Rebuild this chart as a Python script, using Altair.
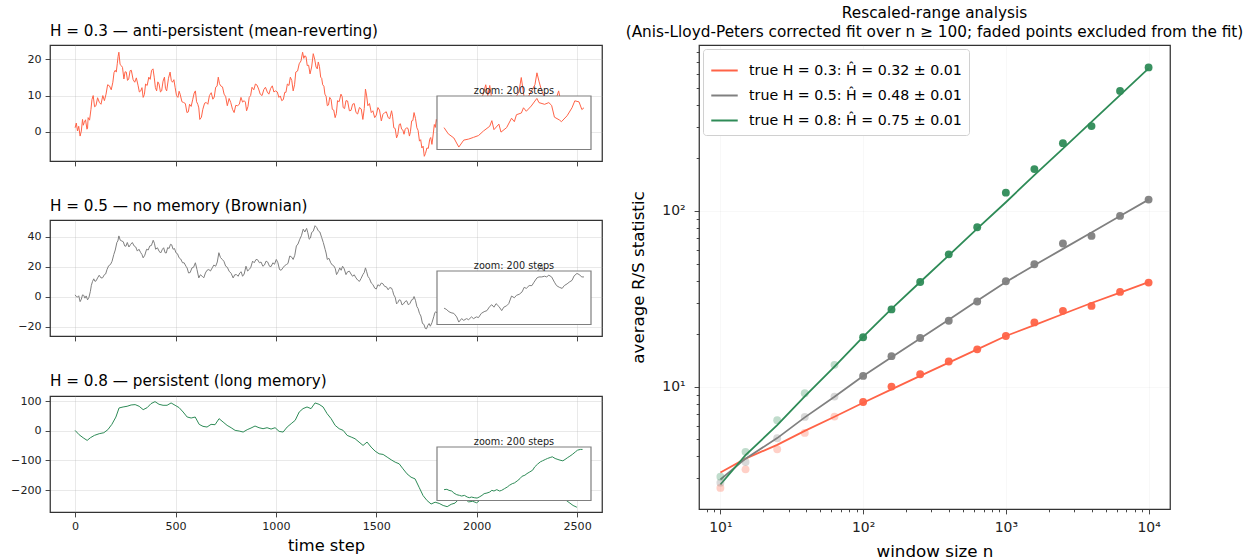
import altair as alt
import pandas as pd

FONT = "DejaVu Sans"
RED, GRAY, GREEN = "#ff6347", "#808080", "#2e8b57"

# ---------------- left panels: time series ----------------
t1 = [0,12,25,37,45,59,65,79,90,104,121,138,154,171,188,200,210,218,230,243,255,267,280,297,314,327,339,351,367,381,
      394,406,418,431,445,456,473,485,498,512,523,540,557,570,586,599,611,621,636,653,669,686,700,713,725,742,758,775,792,809,
      826,842,854,867,881,898,914,931,948,965,982,998,1015,1029,1044,1057,1072,1086,1099,1116,1133,1144,1156,1170,1186,1200,1211,1223,1233,1244,
      1256,1268,1281,1295,1307,1324,1335,1349,1366,1382,1399,1416,1433,1446,1458,1475,1492,1508,1525,1542,1559,1576,1587,1601,1614,1626,1638,1651,1665,1676,
      1688,1702,1715,1727,1739,1752,1766,1777,1789,1799,1820,1840,1860,1880,1900,1920,1940,1960,1980,2000,2020,2035,2045,2055,2065,2075,2090,2110,2130,2150,
      2170,2190,2210,2222,2235,2250,2270,2290,2300,2310,2320,2340,2360,2380,2395,2408,2420,2440,2460,2480,2499]
v1 = [1.1,0.2,-1.2,3.4,2.5,0.7,3.9,6.2,10.0,7.2,8.1,10.0,10.4,12.7,13.7,17.0,18.8,22.0,18.3,14.6,16.5,14.6,17.0,13.7,12.7,11.3,9.5,13.2,15.1,17.0,
      15.1,11.3,13.2,11.3,15.1,11.3,16.5,13.7,12.3,9.5,10.4,8.1,5.3,7.6,9.0,11.3,7.6,3.4,6.2,8.1,10.0,9.0,12.3,15.1,12.7,10.4,7.2,8.1,5.3,7.2,
      9.5,8.6,5.8,9.5,12.3,13.2,11.8,10.0,12.3,10.4,12.7,11.3,9.5,8.6,10.9,13.2,15.1,11.3,16.5,18.8,22.0,21.0,18.3,16.0,21.6,17.9,19.3,15.1,13.0,10.4,
      7.2,9.5,6.2,3.9,8.6,10.4,6.7,8.6,5.8,7.6,5.3,6.7,3.4,11.8,7.2,5.3,3.9,6.7,3.0,5.3,3.9,5.8,1.1,-1.7,2.0,0.7,-0.7,1.1,-1.2,3.0,
      5.3,1.1,-2.6,-4.5,-6.8,-4.5,-2.1,-3.5,2.0,3.4,0.0,-2.0,1.0,3.0,5.0,4.0,6.0,8.0,7.0,9.0,8.0,11.0,13.0,10.0,12.8,9.0,8.0,7.0,9.0,8.0,
      10.0,9.0,11.0,15.0,10.0,9.0,11.0,13.0,16.3,14.0,12.0,9.0,8.0,7.0,9.0,11.3,8.0,6.0,7.0,5.0,6.0]
# finer wiggles of the H = 0.3 path, read between the points above
t1b = [6,18,31,41,52,62,72,84,97,112,129,146,162,180,194,205,214,224,236,249,261,274,289,305,320,333,345,359,374,388,
       400,412,425,438,450,465,479,492,505,518,532,549,564,578,593,605,616,629,645,661,678,693,707,719,734,750,767,784,800,818,
       834,848,861,874,890,906,922,940,957,974,990,1007,1022,1037,1050,1065,1079,1093,1108,1125,1139,1150,1163,1178,1193,1206,1217,1228,1239,1250,
       1262,1275,1288,1301,1315,1330,1342,1357,1374,1390,1407,1425,1440,1452,1466,1483,1500,1516,1533,1550,1567,1581,1594,1607,1620,1632,1644,1658,1670,1682,
       1695,1708,1721,1733,1745,1759,1771,1783,1794]
v1b = [2.4,1.5,0.2,1.8,3.3,1.0,3.2,8.9,6.9,9.4,7.6,8.6,13.0,11.6,16.4,16.5,20.8,18.6,17.8,16.6,14.2,16.9,14.4,14.9,11.0,12.2,10.3,12.8,14.5,17.4,
       12.2,13.8,11.0,14.0,12.0,14.8,14.2,14.4,10.0,11.2,8.3,7.8,5.5,7.0,10.7,8.3,6.6,4.0,7.9,7.6,10.8,9.6,12.6,13.3,12.4,9.7,9.2,6.2,7.3,7.6,
       8.2,8.2,7.0,10.0,11.6,12.9,10.4,11.7,11.0,12.0,11.0,11.0,9.9,8.9,10.9,12.8,14.2,13.0,16.8,19.6,20.3,20.8,18.4,17.9,20.1,17.4,18.0,14.8,12.6,9.8,
       7.4,8.9,6.0,5.0,8.3,9.7,6.4,8.5,5.9,7.8,4.9,6.3,6.4,9.9,7.8,5.8,4.6,6.0,4.8,5.5,3.6,4.3,0.9,-0.8,2.2,0.5,0.7,0.9,0.0,3.1,
       3.7,0.4,-2.2,-4.0,-6.0,-4.6,-1.6,-0.9,1.2]

t2 = [0,12,25,37,49,62,76,87,99,112,129,146,159,176,193,208,218,233,247,260,277,294,310,327,339,356,372,389,401,418,
      435,448,461,475,488,502,518,535,552,565,582,599,616,633,649,666,683,700,716,733,750,767,787,804,820,834,851,867,884,901,
      918,935,951,968,985,1002,1018,1035,1052,1069,1086,1102,1119,1136,1153,1166,1178,1195,1211,1228,1245,1256,1273,1290,1302,1318,1332,1349,1366,1382,
      1399,1416,1433,1446,1458,1475,1492,1508,1525,1542,1559,1576,1587,1601,1614,1628,1643,1660,1676,1688,1702,1715,1730,1744,1757,1769,1786,1796,1810,1830,
      1850,1870,1890,1910,1930,1950,1970,1990,2010,2030,2050,2070,2090,2110,2130,2150,2170,2190,2210,2230,2250,2270,2290,2310,2322,2335,2350,2370,2390,2410,
      2430,2450,2470,2490,2499]
v2 = [1.1,-0.4,-3.4,1.1,-1.1,-2.2,3.4,10.1,10.1,12.4,12.4,14.6,18.0,21.3,28.1,36.0,40.4,37.0,33.7,36.0,34.8,33.7,30.3,29.2,25.8,31.5,33.7,37.5,31.5,30.3,
      31.5,29.2,32.6,34.8,31.5,29.2,25.8,22.5,20.2,15.7,19.1,22.5,12.4,13.5,15.7,18.0,19.1,20.2,29.2,24.7,20.2,16.9,12.4,14.6,15.7,13.5,20.2,18.0,23.6,24.7,
      22.5,20.2,23.6,20.2,22.5,24.7,18.0,19.1,21.3,27.0,24.7,33.7,38.2,44.9,45.4,38.2,42.7,47.2,43.8,39.3,31.5,24.7,22.5,20.2,14.6,19.1,20.2,14.6,16.9,13.5,
      12.4,10.1,14.6,19.1,13.5,9.0,5.6,7.9,9.0,6.7,4.5,5.6,1.1,-4.9,-2.2,-5.6,-3.4,-5.6,-2.2,0.0,-6.7,-11.2,-18.0,-21.3,-19.1,-19.8,-13.5,-10.1,-12.0,-15.0,
      -10.0,-8.0,-12.0,-6.0,-3.0,-5.0,0.0,-2.0,3.0,5.0,2.0,6.0,8.0,4.0,7.0,10.0,8.0,11.0,13.0,10.0,12.0,14.0,15.0,18.0,21.0,16.0,12.0,10.0,8.0,11.0,
      9.0,12.0,14.0,11.0,12.0]
# finer wiggles of the H = 0.5 path, read between the points above
t2b = [6,18,31,43,55,69,81,93,105,120,137,152,167,184,200,213,225,240,253,268,285,302,318,333,347,364,380,395,410,426,
       441,454,468,481,495,510,526,543,558,573,590,607,624,641,657,674,691,708,724,741,758,777,795,812,827,842,859,875,892,909,
       926,943,959,976,993,1010,1026,1043,1060,1077,1094,1110,1127,1144,1159,1172,1186,1203,1219,1236,1250,1264,1281,1296,1310,1325,1340,1357,1374,1390,
       1407,1424,1440,1452,1466,1483,1500,1516,1533,1550,1567,1581,1594,1607,1621,1635,1651,1668,1682,1695,1708,1722,1737,1750,1763,1777,1791]
v2b = [0.0,0.5,-1.8,0.8,0.4,-0.5,7.5,11.8,10.5,14.2,12.5,15.0,20.5,23.5,31.0,37.0,37.5,36.5,33.5,33.0,36.0,33.0,31.5,28.0,27.5,31.0,34.0,35.5,32.5,29.0,
       32.5,29.0,32.0,34.5,32.0,28.5,25.0,22.5,19.0,16.0,19.5,18.0,14.5,12.5,17.5,17.0,21.0,23.0,26.0,23.5,19.5,15.5,14.5,13.5,16.5,15.0,17.0,19.5,22.5,24.5,
       23.0,21.0,23.0,20.0,21.5,22.5,17.5,20.5,22.0,26.5,27.5,35.0,40.5,43.0,42.5,39.0,43.5,46.0,43.0,36.0,29.0,25.5,21.0,18.5,16.5,17.5,18.5,16.5,15.0,14.5,
       11.0,12.0,16.0,16.5,12.0,8.0,5.0,7.0,8.5,6.5,6.0,4.0,-0.5,-4.0,-2.5,-5.0,-2.8,-4.5,-2.0,-2.5,-8.0,-13.0,-18.5,-21.5,-18.0,-17.5,-11.0]

t3 = [0,20,40,60,76,96,120,143,163,183,203,219,239,259,279,299,319,339,359,378,398,418,438,458,478,498,518,538,558,578,
      598,618,637,657,677,697,717,737,757,777,797,817,837,857,876,896,916,936,956,976,996,1016,1036,1056,1076,1096,1116,1135,1155,1175,
      1195,1215,1235,1255,1275,1295,1315,1335,1355,1375,1394,1414,1434,1454,1474,1494,1514,1534,1554,1574,1594,1614,1633,1653,1673,1693,1713,1733,1753,1773,
      1793,1813,1833,1853,1873,1892,1920,1940,1960,1980,2000,2020,2040,2060,2080,2100,2120,2140,2160,2180,2200,2220,2240,2260,2280,2300,2320,2340,2360,2380,
      2400,2420,2440,2460,2480,2499]
v3 = [1,-13.5,-23.7,-32.7,-23.7,-15.8,-10.1,-6.8,3.4,21.4,46,76.7,80,82.3,86.8,88,82.3,71,77.8,91.3,98,89,85.7,85.7,93.6,85.7,77.8,63,46.2,42.8,
      46.2,21.4,14.7,12.4,21.4,20.3,40.6,29.3,18,10.1,1.1,-1.1,-4.5,3.4,9,15.8,10.1,6.8,10.1,5.6,10.1,-2.3,-4.5,12.4,23.7,35,63,74.4,80,74.4,
      93.6,89,80,57.5,40.6,18,6.8,1.1,-15.8,-21.4,-27,-38.3,-49.6,-38.3,-55.2,-68.8,-77.8,-80,-89,-98,-106,-111.6,-128.5,-145.4,-156.7,-162.3,-190.5,-218.7,-235.6,-247,
      -241,-245,-252,-256,-248,-244,-225,-230,-240,-238,-243,-232,-230,-215,-210,-200,-190,-195,-185,-180,-190,-200,-205,-210,-215,-205,-210,-220,-215,-220,
      -225,-228,-232,-242,-252,-258]

# ---------------- insets: 200-step zoom (own scale) ----------------
ins1_s = [0,6,14,21,28,35,42,49,56,65,68,71,78,81,89,96,100,103,110,113,117,124,132,135,143,149,153,157,164,167,175,182,186,192,196,199]
ins1_v = [4.06,2.94,2.19,0.56,1.81,2.0,2.31,2.63,3.44,4.31,5.31,3.69,4.69,3.25,4.06,5.75,5.13,6.38,6.69,7.63,7.0,7.94,9.31,8.56,8.25,8.56,8.06,5.94,5.44,5.13,6.19,7.63,8.88,8.69,7.31,7.63]

ins2_s = [0,3,7,10,14,18,21,25,28,32,35,39,42,46,49,53,57,61,65,68,71,74,78,82,85,89,92,96,100,103,107,111,114,117,121,125,128,132,135,139,143,146,149,153,157,160,164,168,171,175,178,182,185,189,192,196,199]
ins2_v = [3.13,2.94,2.5,2.31,2.19,1.56,0.63,1.25,0.94,1.25,1.06,1.56,1.25,1.56,1.44,2.19,2.5,2.69,3.44,3.75,3.31,3.94,3.44,2.69,3.31,3.56,3.94,5.31,5.0,5.44,5.63,6.06,6.88,6.69,7.19,7.19,7.81,8.56,8.75,8.75,8.88,8.75,9.06,8.75,7.81,7.19,6.88,6.69,7.19,7.5,7.81,8.13,8.94,9.38,9.19,8.75,8.75]

ins3_s = [0,4,7,11,14,18,22,25,29,33,36,39,43,47,50,54,57,61,65,68,71,75,79,82,86,90,93,97,100,104,108,111,115,118,122,126,129,133,137,140,144,147,151,154,158,162,165,169,172,176,179,183,187,190,194,197]
ins3_v = [2.03,2.09,1.9,1.77,1.39,1.08,0.95,0.82,0.95,0.63,0.51,0.63,0.51,0.44,0.63,0.95,1.27,1.39,1.58,1.9,1.77,2.03,1.77,1.9,2.22,2.53,2.85,3.16,3.29,3.67,4.11,4.56,4.75,5.06,5.38,5.7,6.33,6.84,7.28,7.47,7.72,7.91,8.1,8.23,7.91,7.72,7.59,7.47,7.72,8.1,8.35,8.73,9.18,9.49,9.62,9.62]

titles = ["H = 0.3 \u2014 anti-persistent (mean-reverting)",
          "H = 0.5 \u2014 no memory (Brownian)",
          "H = 0.8 \u2014 persistent (long memory)"]
ydoms = [[-8.1, 24.0], [-26.3, 51.0], [-274.0, 117.0]]
yticks = [[0, 10, 20], [-20, 0, 20, 40], [-200, -100, 0, 100]]
xticks = [0, 500, 1000, 1500, 2000, 2500]

PW, PH = 552, 116
BOX = dict(x0=387, x1=541, y0=51, y1=104.5)


def panel(t, v, s, w, color, title, ydom, ytk, bottom):
    df = pd.DataFrame({"t": t, "v": v})
    xax = alt.Axis(values=xticks, format="d", labels=bottom, title="time step" if bottom else None,
                   titleFontSize=16.3, titlePadding=5, grid=True)
    main = alt.Chart(df).mark_line(color=color, strokeWidth=1.0, clip=True).encode(
        x=alt.X("t:Q", scale=alt.Scale(domain=[-125, 2624], nice=False, zero=False), axis=xax),
        y=alt.Y("v:Q", scale=alt.Scale(domain=ydom, nice=False, zero=False),
                axis=alt.Axis(values=ytk, title=None, grid=True)),
    )
    one = pd.DataFrame({"k": [0]})
    box = alt.Chart(one).mark_rect(fill="white", stroke="#7f7f7f", strokeWidth=1.2).encode(
        x=alt.value(BOX["x0"]), x2=alt.value(BOX["x1"]), y=alt.value(BOX["y0"]), y2=alt.value(BOX["y1"]))
    lab = alt.Chart(one).mark_text(text="zoom: 200 steps", font=FONT, fontSize=9.7, color="#222",
                                   align="center", baseline="bottom").encode(
        x=alt.value((BOX["x0"] + BOX["x1"]) / 2), y=alt.value(BOX["y0"] - 0.5))
    wmin, wmax = min(w), max(w)
    pad = 0.05 * (wmax - wmin)
    ins = alt.Chart(pd.DataFrame({"s": s, "w": w})).mark_line(color=color, strokeWidth=1.0).encode(
        x=alt.X("s:Q", scale=alt.Scale(domain=[-10, 209], range=[BOX["x0"], BOX["x1"]], nice=False, zero=False), axis=None),
        y=alt.Y("w:Q", scale=alt.Scale(domain=[wmin - pad, wmax + pad], range=[BOX["y1"], BOX["y0"]], nice=False, zero=False), axis=None),
    )
    return alt.layer(main, box, ins, lab).resolve_scale(x="independent", y="independent").properties(
        width=PW, height=PH,
        title=alt.TitleParams(title, anchor="start", frame="group", fontSize=15.2, font=FONT,
                              fontWeight="normal", offset=6, color="#000"))


p1 = panel(t1 + t1b, v1 + v1b, ins1_s, ins1_v, RED, titles[0], ydoms[0], yticks[0], False)
p2 = panel(t2 + t2b, v2 + v2b, ins2_s, ins2_v, GRAY, titles[1], ydoms[1], yticks[1], False)
p3 = panel(t3, v3, ins3_s, ins3_v, GREEN, titles[2], ydoms[2], yticks[2], True)
left = alt.vconcat(p1, p2, p3, spacing=31)

# ---------------- right panel: R/S analysis ----------------
n = [10, 15, 25, 39, 63, 100, 158, 251, 398, 630, 1000, 1584, 2511, 3981, 6309, 10000]
rs_03 = [2.65, 3.38, 4.40, 5.45, 6.75, 8.17, 10.0, 11.75, 13.9, 16.3, 19.4, 23.2, 27.0, 28.8, 34.6, 39.1]
rs_05 = [2.84, 3.72, 5.08, 6.72, 8.77, 11.5, 14.9, 18.9, 23.7, 30.5, 39.8, 49.7, 65.2, 72.1, 93.7, 116.0]
rs_08 = [3.07, 4.25, 6.43, 9.16, 13.3, 19.1, 27.5, 39.4, 56.6, 80.7, 127.0, 173.0, 243.0, 304.0, 482.0, 656.0]
fit_03 = [3.24, 3.89, 4.66, 5.60, 6.73, 8.09, 9.64, 11.5, 13.7, 16.3, 19.4, 22.4, 25.9, 29.9, 34.3, 39.3]
fit_05 = [2.96, 3.89, 5.09, 6.68, 8.75, 11.5, 14.7, 18.8, 24.0, 30.8, 39.4, 49.0, 60.8, 75.3, 93.5, 116.0]
fit_08 = [2.77, 4.07, 6.03, 8.81, 13.0, 19.2, 27.7, 39.4, 55.8, 79.3, 112.0, 160.0, 226.0, 321.0, 456.0, 647.0]
labels = ["true H = 0.3: \u0124 = 0.32 \u00b1 0.01",
          "true H = 0.5: \u0124 = 0.48 \u00b1 0.01",
          "true H = 0.8: \u0124 = 0.75 \u00b1 0.01"]
colors = [RED, GRAY, GREEN]
n_min_fit = 100

rows_p, rows_f = [], []
for lab_, rs, ft in zip(labels, [rs_03, rs_05, rs_08], [fit_03, fit_05, fit_08]):
    for ni, r, f in zip(n, rs, ft):
        rows_p.append({"n": ni, "rs": r, "series": lab_, "used": ni >= n_min_fit})
        rows_f.append({"n": ni, "fit": f, "series": lab_})
dfp = pd.DataFrame(rows_p)
dff = pd.DataFrame(rows_f)

MAJ = "abs(log(datum.value)/LN10 - round(log(datum.value)/LN10)) < 0.001"
x_major = [10, 100, 1000, 10000]
x_minor = [8, 9] + [k * 10 for k in range(2, 10)] + [k * 100 for k in range(2, 10)] + [k * 1000 for k in range(2, 10)]
y_major = [10, 100]
y_minor = [k for k in range(3, 10)] + [k * 10 for k in range(2, 10)] + [k * 100 for k in range(2, 9)]
sup = "datum.value == 10 ? '10\u00b9' : datum.value == 100 ? '10\u00b2' : datum.value == 1000 ? '10\u00b3' : datum.value == 10000 ? '10\u2074' : ''"

xs = alt.Scale(type="log", domain=[7.08, 14125], nice=False)
ys = alt.Scale(type="log", domain=[2.01, 880], nice=False)
xax = alt.Axis(values=x_major + x_minor, labelExpr=sup, title="window size n", titleFontSize=16.7, titlePadding=9,
               labelFontSize=13.9, labelPadding=7, grid=True,
               tickSize={"condition": {"test": MAJ, "value": 4.9}, "value": 2.8},
               gridOpacity={"condition": {"test": MAJ, "value": 0.35}, "value": 0})
yax = alt.Axis(values=y_major + y_minor, labelExpr=sup, title="average R/S statistic", titleFontSize=16.7, titlePadding=14,
               labelFontSize=13.9, labelPadding=9, grid=True,
               tickSize={"condition": {"test": MAJ, "value": 4.9}, "value": 2.8},
               gridOpacity={"condition": {"test": MAJ, "value": 0.35}, "value": 0})
cscale = alt.Scale(domain=labels, range=colors)

lines = alt.Chart(dff).mark_line(strokeWidth=1.8).encode(
    x=alt.X("n:Q", scale=xs, axis=xax),
    y=alt.Y("fit:Q", scale=ys, axis=yax),
    color=alt.Color("series:N", scale=cscale,
                    legend=alt.Legend(orient="top-left", title=None, symbolType="stroke", symbolSize=700,
                                      symbolStrokeWidth=2, labelFontSize=14.2, labelFont=FONT, labelLimit=500,
                                      fillColor="white", strokeColor="#d0d0d0", padding=7, cornerRadius=3,
                                      rowPadding=3, offset=4, labelOffset=10)),
    detail="series:N",
)
faded = alt.Chart(dfp).transform_filter("!datum.used").mark_circle(size=62, opacity=0.3).encode(
    x=alt.X("n:Q", scale=xs), y=alt.Y("rs:Q", scale=ys),
    color=alt.Color("series:N", scale=cscale, legend=None))
solid = alt.Chart(dfp).transform_filter("datum.used").mark_circle(size=62, opacity=0.95).encode(
    x=alt.X("n:Q", scale=xs), y=alt.Y("rs:Q", scale=ys),
    color=alt.Color("series:N", scale=cscale, legend=None))

right = alt.layer(lines, faded, solid).properties(
    width=471, height=464,
    title=alt.TitleParams(["Rescaled-range analysis",
                           "(Anis-Lloyd-Peters corrected fit over n \u2265 100; faded points excluded from the fit)"],
                          anchor="middle", fontSize=15.3, font=FONT, fontWeight="normal", offset=5,
                          lineHeight=19, color="#000"))

chart = alt.hconcat(left, right, spacing=22).resolve_legend(color="independent").properties(
    padding={"left": 10, "top": 5, "right": 0, "bottom": 0}
).configure(font=FONT).configure_view(
    stroke="#333333", strokeWidth=1.25
).configure_axis(
    labelFont=FONT, titleFont=FONT, labelFontSize=11.1, labelColor="#222", tickColor="#333", tickSize=4.9,
    tickWidth=0.9, labelPadding=4, domain=False, gridColor="#b0b0b0", gridOpacity=0.35, gridWidth=0.8,
    titleFontWeight="normal", titleColor="#000"
)

chart.save("out.html", embed_options={"renderer": "svg", "actions": False})
